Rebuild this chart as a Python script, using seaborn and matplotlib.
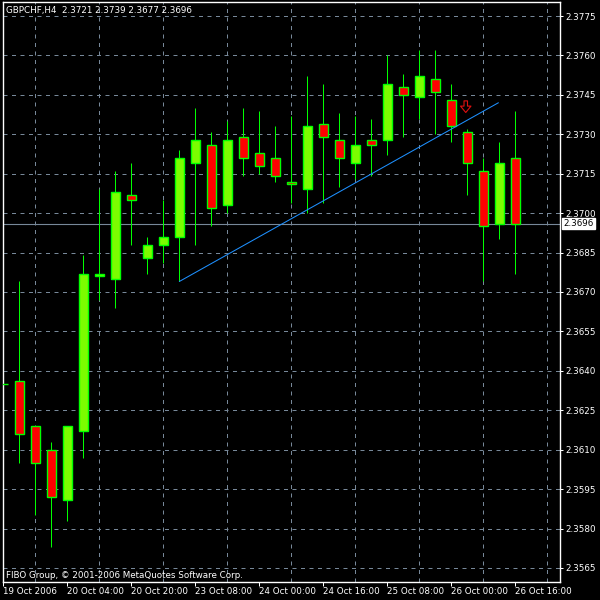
import matplotlib
matplotlib.use("Agg")
import matplotlib.pyplot as plt
from matplotlib.path import Path
import seaborn as sns

# GBPCHF, H4 candles
opens = [2.3635, 2.3636, 2.3619, 2.3610, 2.3591, 2.3617, 2.3676, 2.3675, 2.3707, 2.3683,
         2.3688, 2.3691, 2.3719, 2.3726, 2.3703, 2.3729, 2.3723, 2.3721, 2.3712, 2.3709,
         2.3734, 2.3728, 2.3719, 2.3728, 2.3728, 2.3748, 2.3744, 2.3751, 2.3743, 2.3731,
         2.3716, 2.3696, 2.3721]
highs = [2.3672, 2.3674, 2.3619, 2.3613, 2.3619, 2.3684, 2.3709, 2.3716, 2.3719, 2.3691,
         2.3705, 2.3724, 2.3740, 2.3731, 2.3735, 2.3740, 2.3739, 2.3733, 2.3737, 2.3752,
         2.3749, 2.3738, 2.3737, 2.3736, 2.3760, 2.3753, 2.3762, 2.3762, 2.3749, 2.3732,
         2.3721, 2.3727, 2.3739]
lows = [2.3618, 2.3605, 2.3585, 2.3573, 2.3583, 2.3607, 2.3667, 2.3664, 2.3688, 2.3677,
        2.3681, 2.3674, 2.3688, 2.3695, 2.3700, 2.3714, 2.3715, 2.3712, 2.3704, 2.3700,
        2.3704, 2.3710, 2.3713, 2.3714, 2.3722, 2.3729, 2.3736, 2.3730, 2.3727, 2.3707,
        2.3674, 2.3690, 2.3677]
closes = [2.3635, 2.3616, 2.3605, 2.3592, 2.3619, 2.3677, 2.3677, 2.3708, 2.3705, 2.3688,
          2.3691, 2.3721, 2.3728, 2.3702, 2.3728, 2.3721, 2.3718, 2.3714, 2.3711, 2.3733,
          2.3729, 2.3721, 2.3726, 2.3726, 2.3749, 2.3745, 2.3752, 2.3746, 2.3733, 2.3719,
          2.3695, 2.3719, 2.3696]

date_tick_idx = [0, 4, 8, 12, 16, 20, 24, 28, 32]
date_labels = ["19 Oct 2006", "20 Oct 04:00", "20 Oct 20:00", "23 Oct 08:00", "24 Oct 00:00",
               "24 Oct 16:00", "25 Oct 08:00", "26 Oct 00:00", "26 Oct 16:00"]
price_ticks = [2.3565, 2.3580, 2.3595, 2.3610, 2.3625, 2.3640, 2.3655, 2.3670,
               2.3685, 2.3700, 2.3715, 2.3730, 2.3745, 2.3760, 2.3775]
grid_idx = [2, 4, 6, 8, 10, 12, 14, 16, 18, 20, 22, 24, 26, 28, 30, 32, 34]

# trend line and sell arrow
trend_x = [11, 30.94]
trend_y = [2.3674, 2.3742]
arrow_idx = 29
arrow_price = 2.37405
bid = 2.3696

title = "GBPCHF,H4  2.3721 2.3739 2.3677 2.3696"
footer = "FIBO Group, \u00a9 2001-2006 MetaQuotes Software Corp."

sns.set_style("dark", {"axes.facecolor": "black", "figure.facecolor": "black"})
plt.rcParams["font.family"] = ["DejaVu Sans"]
fs = 6.3
px = 0.72  # one pixel in points

fig = plt.figure(figsize=(6, 6), dpi=100)
ax = fig.add_axes([2.5 / 600, 18 / 600, 557.5 / 600, 580 / 600])
ax.set_facecolor("black")

# grid
ax.set_yticks(price_ticks)
ax.set_yticklabels([f"{p:.4f}" for p in price_ticks])
ax.set_xticks(date_tick_idx)
ax.set_xticklabels(date_labels, ha="left")
ax.set_xticks(grid_idx, minor=True)
ax.grid(False)
ax.grid(True, which="major", axis="y", color="#778899", lw=px, linestyle=(0, (4, 4.5)))
ax.grid(True, which="minor", axis="x", color="#778899", lw=px, linestyle=(0, (4, 4.5)))
ax.set_axisbelow(True)

idx = list(range(len(opens)))
# wicks
ax.vlines(idx, lows, highs, colors="#00FF00", lw=px, zorder=2)
# bodies
for i, o, c in zip(idx, opens, closes):
    fill = "#7CFC00" if c > o else "red"
    ax.bar(i, max(abs(c - o), 1e-6), bottom=min(o, c), width=0.58,
           color=fill, edgecolor="#00FF00", linewidth=1.0, zorder=3)

# trend line
sns.lineplot(x=trend_x, y=trend_y, color="#1E90FF", lw=0.75, ax=ax, zorder=4)

# bid line + label
ax.axhline(bid, color="#778899", lw=0.8, zorder=1)
ax.annotate(f"{bid:.4f}", xy=(1.0, bid), xycoords=("axes fraction", "data"),
            xytext=(2.6, 0), textcoords="offset points", ha="left", va="center",
            fontsize=fs, color="black", annotation_clip=False,
            bbox=dict(boxstyle="square,pad=0.15", fc="white", ec="white"))

# down arrow (sell signal)
arrow = Path([(-0.3, 1), (0.3, 1), (0.3, 0.1), (0.9, 0.1), (0, -1),
              (-0.9, 0.1), (-0.3, 0.1), (-0.3, 1)], closed=True)
ax.scatter([arrow_idx - 0.1], [arrow_price], marker=arrow, s=70, facecolors="none",
           edgecolors="#E01010", linewidths=0.8, zorder=5)

ax.set_xlim(-0.05, 34.79)
ax.set_ylim(2.355967, 2.378033)

ax.yaxis.tick_right()
ax.tick_params(axis="y", which="major", colors="white", labelcolor="white",
               length=3 * px, width=px, pad=1.5, labelsize=fs, right=True, left=False)
ax.tick_params(axis="x", which="major", colors="white", labelcolor="white",
               length=4 * px, width=px, pad=1.0, labelsize=fs, bottom=True)
ax.tick_params(which="minor", length=0)
for s in ax.spines.values():
    s.set_color("white")
    s.set_linewidth(1.0)
    s.set_visible(True)

fig.text(6 / 600, 1 - 13.5 / 600, title, color="white", fontsize=fs, va="baseline")
fig.text(6 / 600, 1 - 578 / 600, footer, color="white", fontsize=fs, va="baseline")

fig.savefig("out.png", dpi=100, facecolor="black")
